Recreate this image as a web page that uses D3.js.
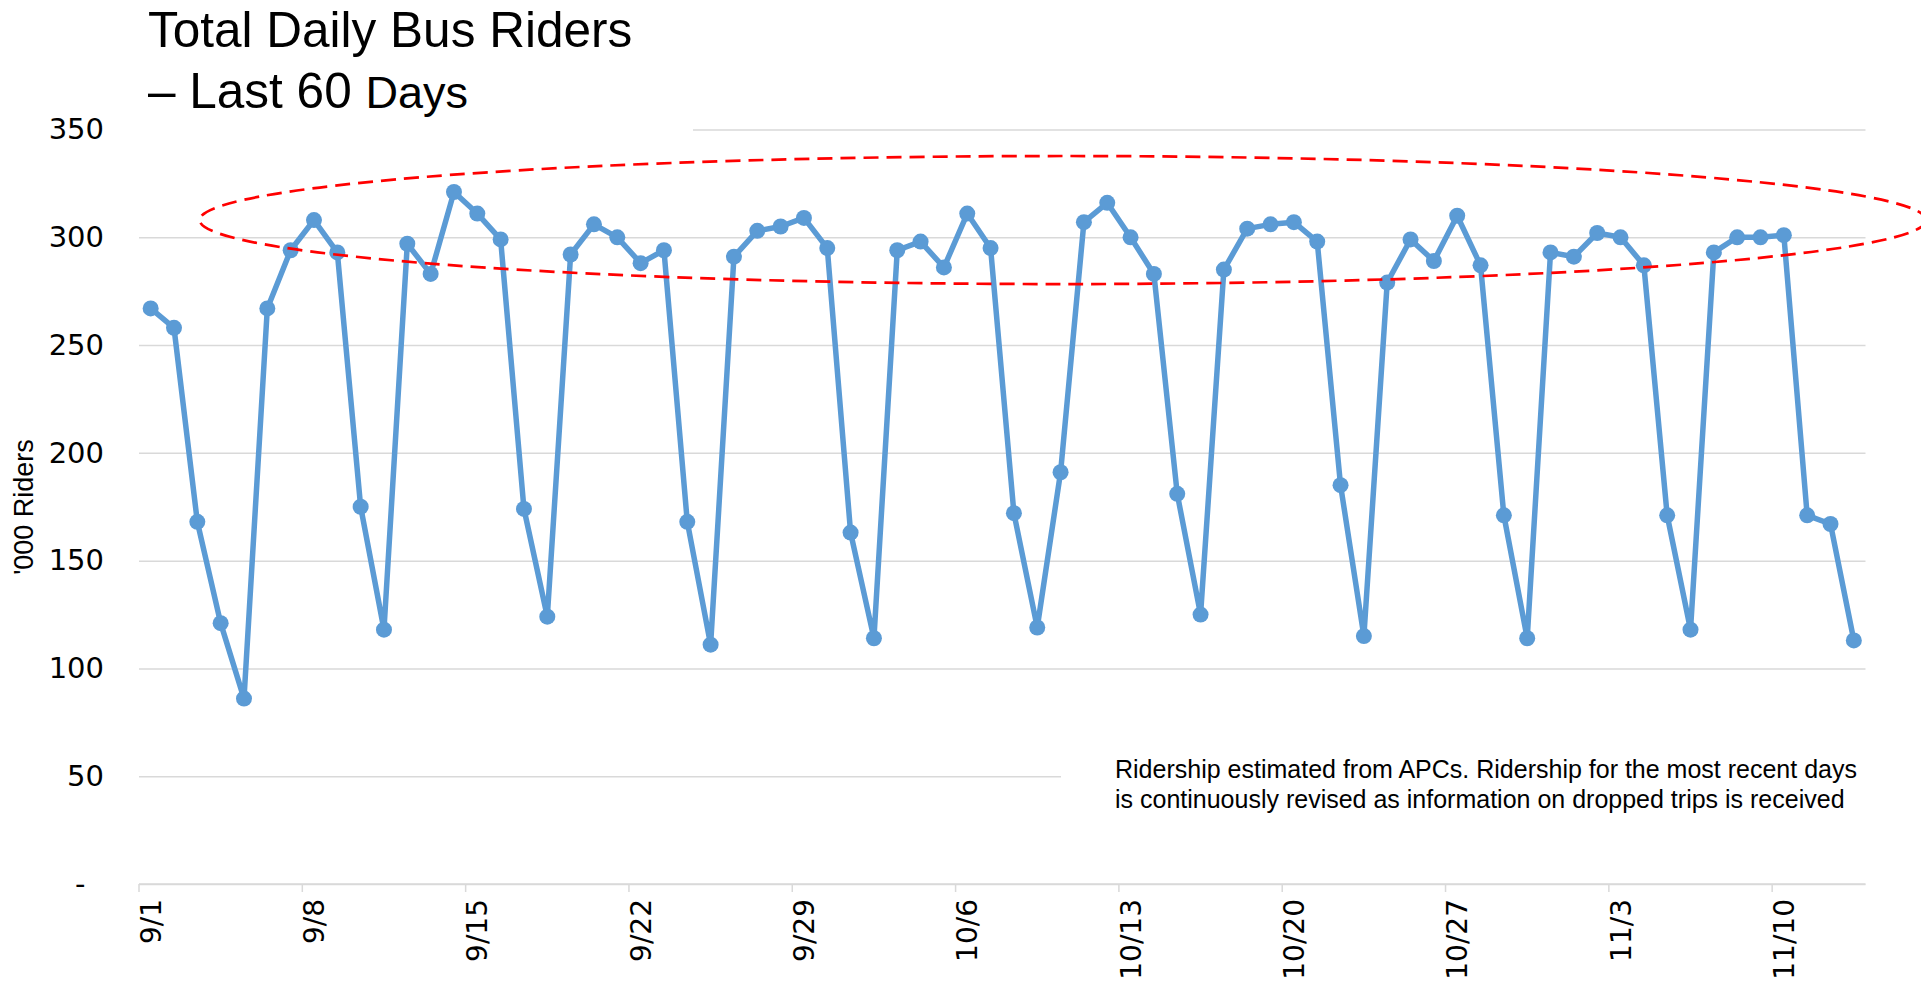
<!DOCTYPE html>
<head>
  <meta charset="utf-8">
  <script src="https://d3js.org/d3.v7.min.js"></script>
  <style>
  body { margin: 0; background: #fff; }
  svg { display: block; }
  .grid line { stroke: #d9d9d9; stroke-width: 1.5px; }
  .grid text, .xaxis text { font-family: "DejaVu Sans", Verdana, sans-serif; fill: #000; }
  .xaxis path, .xaxis line { stroke: #d9d9d9; stroke-width: 1.5px; }
  .label { font-family: "Liberation Sans", Arial, sans-serif; fill: #000; }
  .riders { fill: none; stroke: #5b9bd5; stroke-width: 5.5px; stroke-linejoin: round; }
  .dot { fill: #5b9bd5; }
  .ring { fill: none; stroke: #ff0000; stroke-width: 2.7px; stroke-dasharray: 15 8; }
</style>
</head>
<body>

<svg width="1921" height="984"></svg>

<script type="text/javascript">
// daily riders ('000), one value per day starting 9/1
var firstDay = new Date(2019, 8, 1);
var riders = [
  267, 258, 168, 121, 86, 267, 294, 308, 293, 175, 118, 297, 283, 321,   // 9/1 - 9/14
  311, 299, 174, 124, 292, 306, 300, 288, 294, 168, 111, 291, 303, 305,   // 9/15 - 9/28
  309, 295, 163, 114, 294, 298, 286, 311, 295, 172, 119, 191, 307, 316,   // 9/29 - 10/12
  300, 283, 181, 125, 285, 304, 306, 307, 298, 185, 115, 279, 299, 289,   // 10/13 - 10/26
  310, 287, 171, 114, 293, 291, 302, 300, 287, 171, 118, 293, 300, 300,   // 10/27 - 11/9
  301, 171, 167, 113                                                      // 11/10 - 11/13
];
var tickLabels = ["9/1", "9/8", "9/15", "9/22", "9/29", "10/6", "10/13", "10/20", "10/27", "11/3", "11/10"];
var yTicks = [0, 50, 100, 150, 200, 250, 300, 350];

// the hand drawn ring round the weekday peaks, in day / rider units
var ringCenterDay = 39.6;
var ringCenterValue = 308;
var ringDays = 37;
var ringValue = 29.7;

var titleLine1 = "Total Daily Bus Riders";
var titleLine2 = "\u2013 Last 60 ";
var titleLine2b = "Days";
var yTitle = "'000 Riders";
var note1 = "Ridership estimated from APCs. Ridership for the most recent days";
var note2 = "is continuously revised as information on dropped trips is received";

var fmt = d3.timeFormat("%-m/%-d");
var days = riders.map(function(v, i) { return fmt(d3.timeDay.offset(firstDay, i)); });

var svg = d3.select("svg");
var plotLeft = 139, plotRight = 1865.5, plotTop = 129.5, plotBottom = 884;

var x = d3.scaleBand().domain(days).range([plotLeft, plotRight]).padding(0);
var bw = x.bandwidth();
var y = d3.scaleLinear().domain([0, 350]).range([plotBottom, plotTop]);

// gridlines + y labels
var grid = svg.append("g")
    .attr("class", "grid")
    .attr("transform", "translate(" + plotLeft + ",0)")
    .call(d3.axisLeft(y)
      .tickValues(yTicks)
      .tickSize(-(plotRight - plotLeft))
      .tickPadding(35)
      .tickFormat(function(d) { return d === 0 ? "-  " : d; }));
grid.select(".domain").remove();
grid.selectAll("text").style("font-size", "29px").style("white-space", "pre");

// x axis, ticks on band edges, labels on band centres
var xaxis = svg.append("g")
    .attr("class", "xaxis")
    .attr("transform", "translate(0," + plotBottom + ")")
    .call(d3.axisBottom(x).tickValues(tickLabels).tickSizeOuter(0).tickSizeInner(8));
xaxis.select(".domain").attr("d", "M" + plotLeft + ",0H" + plotRight);
xaxis.selectAll(".tick line").attr("x1", -bw / 2).attr("x2", -bw / 2);
xaxis.selectAll(".tick text")
    .style("font-size", "28px")
    .attr("transform", "rotate(-90)")
    .attr("text-anchor", "end")
    .attr("x", -15)
    .attr("y", 0)
    .attr("dy", "0.36em");

// white text boxes sitting over the gridlines
svg.append("rect").attr("x", plotLeft).attr("y", 0).attr("width", 554).attr("height", 136).attr("fill", "#fff");
svg.append("rect").attr("x", 1061).attr("y", 745).attr("width", 860).attr("height", 80).attr("fill", "#fff");

// the series
var line = d3.line()
    .x(function(d, i) { return x(days[i]) + bw / 2; })
    .y(function(d) { return y(d); });

svg.append("path")
    .datum(riders)
    .attr("class", "riders")
    .attr("d", line);

svg.selectAll(".dot")
    .data(riders)
  .enter().append("circle")
    .attr("class", "dot")
    .attr("cx", function(d, i) { return x(days[i]) + bw / 2; })
    .attr("cy", function(d) { return y(d); })
    .attr("r", 8);

// red dashed ring
svg.append("ellipse")
    .attr("class", "ring")
    .attr("cx", plotLeft + ringCenterDay * bw)
    .attr("cy", y(ringCenterValue))
    .attr("rx", ringDays * bw)
    .attr("ry", y(0) - y(ringValue));

// title
var t = svg.append("text").attr("class", "label").style("font-size", "49.5px");
t.append("tspan").attr("x", 148).attr("y", 47).text(titleLine1);
t.append("tspan").attr("x", 148).attr("y", 108).text(titleLine2);
t.append("tspan").style("font-size", "45px").text(titleLine2b);

// y title
svg.append("text")
    .attr("class", "label")
    .style("font-size", "27px")
    .attr("transform", "translate(24,507) rotate(-90)")
    .attr("text-anchor", "middle")
    .attr("dy", "0.35em")
    .text(yTitle);

// note
var n = svg.append("text").attr("class", "label").style("font-size", "25px");
n.append("tspan").attr("x", 1115).attr("y", 778).text(note1);
n.append("tspan").attr("x", 1115).attr("y", 808).text(note2);
</script>

</body>
</html>
